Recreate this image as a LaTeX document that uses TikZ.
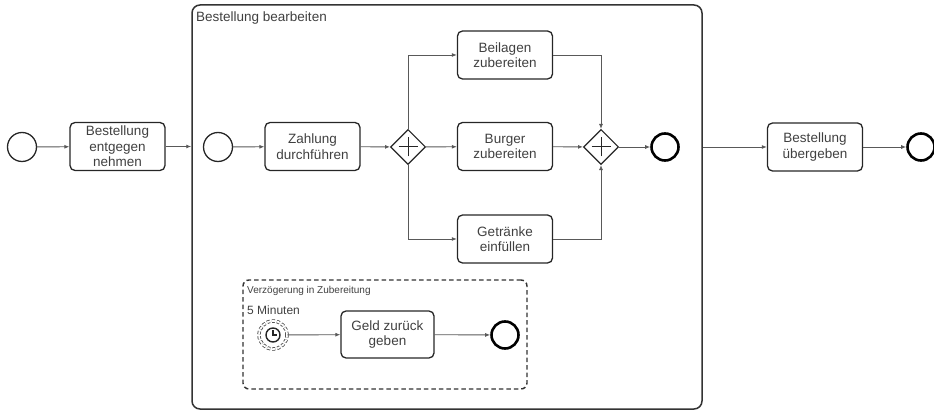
\documentclass[tikz,border=0pt]{standalone}
\usepackage{fontspec}
\setmainfont{Liberation Sans}
\usetikzlibrary{positioning, arrows.meta, shapes.geometric, calc}

\begin{document}
\begin{tikzpicture}[
        x=1pt, y=-1pt,
        task/.style={rectangle, rounded corners=5pt, draw=black!85, line width=1.3pt, minimum width=95pt, minimum height=48pt, align=center, inner sep=2pt, text=black!75, font=\fontsize{13.5}{15.5}\selectfont},
        startev/.style={circle, draw=black!85, line width=1.3pt, minimum size=29pt, inner sep=0pt},
        endev/.style={circle, draw=black, line width=2.6pt, minimum size=27pt, inner sep=0pt},
        gateway/.style={diamond, aspect=1, draw=black!85, line width=1.1pt, minimum size=35pt, inner sep=0pt,
            path picture={\draw[line width=1pt, black!85] (path picture bounding box.center) ++(-9.5pt,0) -- ++(19pt,0)
                (path picture bounding box.center) ++(0,-9.5pt) -- ++(0,19pt);}},
        subproc/.style={rectangle, rounded corners=8pt, draw=black!80, line width=1.5pt, inner sep=0pt},
        eventsub/.style={rectangle, rounded corners=6pt, draw=black!80, dash pattern=on 4.5pt off 3pt, line width=1.4pt, inner sep=0pt},
        timer/.style={circle, draw=black!75, densely dashed, double, double distance=1.8pt, line width=0.8pt, minimum size=28pt, inner sep=0pt},
        flow/.style={-{Latex[length=5pt, width=4pt]}, draw=black!65, line width=0.9pt},
        caption/.style={inner sep=0pt, text=black!75}
        ]
        \useasboundingbox (0,0) rectangle (934,411);

        % Subprocess frames
        \node[subproc, minimum width=510pt, minimum height=404pt] (sub) at (447,207) {};
        \node[caption, anchor=base west, font=\fontsize{13.5}{15.5}\selectfont] (subtitle) at (196,22) {Bestellung bearbeiten};
        \node[eventsub, minimum width=284pt, minimum height=109pt] (evsub) at (385,334.5) {};
        \node[caption, anchor=base west, font=\fontsize{10}{12}\selectfont] (evtitle) at (247,294) {Verzögerung in Zubereitung};

        % Outer flow
        \node[startev] (start) at (22,147) {};
        \node[task] (take) at (117.5,146.5) {Bestellung\\entgegen\\nehmen};
        \node[task] (hand) at (815,147) {Bestellung\\übergeben};
        \node[endev] (end) at (921,147) {};

        % Inner flow
        \node[startev] (substart) at (218,147) {};
        \node[task] (pay) at (312.5,146.5) {Zahlung\\durchführen};
        \node[gateway] (split) at (408,147) {};
        \foreach \name/\ypos/\txt in {side/55/{Beilagen\\zubereiten}, burger/146.5/{Burger\\zubereiten}, drinks/239/{Getränke\\einfüllen}} {
            \node[task] (\name) at (505,\ypos) {\txt};
        }
        \node[gateway] (join) at (601,147) {};
        \node[endev] (subend) at (665,147) {};

        % Event subprocess
        \node[timer] (timer) at (273,335) {};
        \draw[line width=1.4pt, black!85] (timer.center) circle (7pt);
        \draw[line width=1.1pt, black!85] (timer.center) ++(0,5pt) -- (timer.center) -- ++(4pt,0);
        \node[caption, anchor=base west, font=\fontsize{12}{14}\selectfont] (delay) at (247,315) {5 Minuten};
        \node[task, minimum width=93pt, minimum height=47pt] (refund) at (387.5,334.5) {Geld zurück\\geben};
        \node[endev] (evend) at (505,335) {};

        % Connections: outer flow
        \draw[flow] (start) -- (take);
        \draw[flow] (take) -- (take -| sub.west);
        \draw[flow] (sub.east |- hand) -- (hand);
        \draw[flow] (hand) -- (end);

        % Connections: inner flow
        \draw[flow] (substart) -- (pay);
        \draw[flow] (pay) -- (split);
        \draw[flow] (split.north) |- (side);
        \draw[flow] (split) -- (burger);
        \draw[flow] (split.south) |- (drinks);
        \draw[flow] (side) -| (join.north);
        \draw[flow] (burger) -- (join);
        \draw[flow] (drinks) -| (join.south);
        \draw[flow] (join) -- (subend);

        % Connections: event subprocess
        \draw[flow] (timer) -- (refund);
        \draw[flow] (refund) -- (evend);

    \end{tikzpicture}
\end{document}
